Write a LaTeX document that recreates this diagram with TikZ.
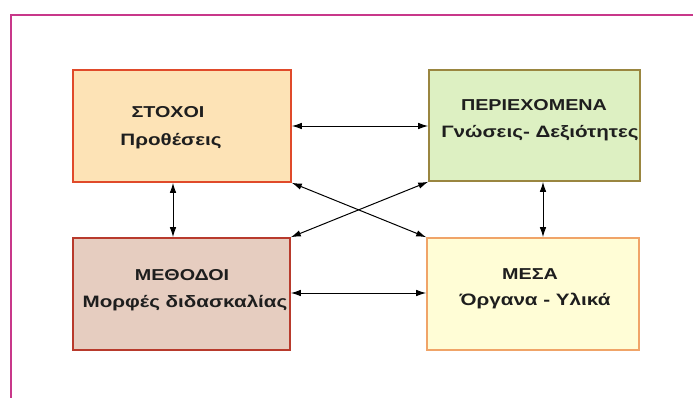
\documentclass[tikz,border=0pt]{standalone}
\usepackage{fontspec}
\setmainfont{Liberation Sans}
\newfontfamily\boxfont[FakeStretch=1.25]{Liberation Sans}
\usetikzlibrary{arrows.meta}
\definecolor{frameC}{HTML}{C8388A}
\definecolor{stFill}{HTML}{FDE3B6}
\definecolor{stDraw}{HTML}{E04A2A}
\definecolor{peFill}{HTML}{DDF0C2}
\definecolor{peDraw}{HTML}{9A8640}
\definecolor{meFill}{HTML}{E6CDC0}
\definecolor{meDraw}{HTML}{B83A2C}
\definecolor{msFill}{HTML}{FFFDD6}
\definecolor{msDraw}{HTML}{F0A468}
\definecolor{txt}{HTML}{1E1E1E}
\tikzset{
  box/.style={draw, line width=1.6pt, minimum width=218pt, minimum height=112pt, inner sep=0pt},
  lbl/.style={text=txt, font=\boxfont\bfseries\fontsize{16.5}{19}\selectfont, anchor=center, inner sep=0pt},
  ttl/.style={lbl, font=\boxfont\bfseries\fontsize{15.8}{18}\selectfont},
  conn/.style={line width=1pt, {Latex[length=10pt,width=6.5pt]}-{Latex[length=10pt,width=6.5pt]}},
}
\begin{document}
\begin{tikzpicture}[x=1pt,y=-1pt]
\useasboundingbox (0,0) rectangle (693,397);
\draw[frameC, line width=1.6pt] (694,15) -- (11,15) -- (11,398);
\node[box, draw=stDraw, fill=stFill] (st) at (182,126) {};
\node[box, draw=peDraw, fill=peFill, minimum width=211pt, minimum height=111pt] (pe) at (534.5,125.5) {};
\node[box, draw=meDraw, fill=meFill, minimum width=217pt] (me) at (181.5,294) {};
\node[box, draw=msDraw, fill=msFill, minimum width=212pt] (ms) at (533,294) {};
\node[ttl] (st1) at (168,112) {ΣΤΟΧΟΙ};
\node[lbl] (st2) at (171,141) {Προθέσεις};
\node[ttl] (pe1) at (534,105) {ΠΕΡΙΕΧΟΜΕΝΑ};
\node[lbl] (pe2) at (540,133) {Γνώσεις- Δεξιότητες};
\node[ttl] (me1) at (182,275) {ΜΕΘΟΔΟΙ};
\node[lbl] (me2) at (185,303) {Μορφές διδασκαλίας};
\node[ttl] (ms1) at (530,274) {ΜΕΣΑ};
\node[lbl] (ms2) at (535,301) {Όργανα - Υλικά};
\draw[conn] (st.east |- 0,126) -- (pe.west |- 0,126);
\draw[conn] (me.east |- 0,293) -- (ms.west |- 0,293);
\draw[conn] (st.south -| 173,0) -- (me.north -| 173,0);
\draw[conn] (pe.south -| 543,0) -- (ms.north -| 543,0);
\draw[conn] (st.south east) -- (ms.north west);
\draw[conn] (me.north east) -- (pe.south west);
\end{tikzpicture}
\end{document}
